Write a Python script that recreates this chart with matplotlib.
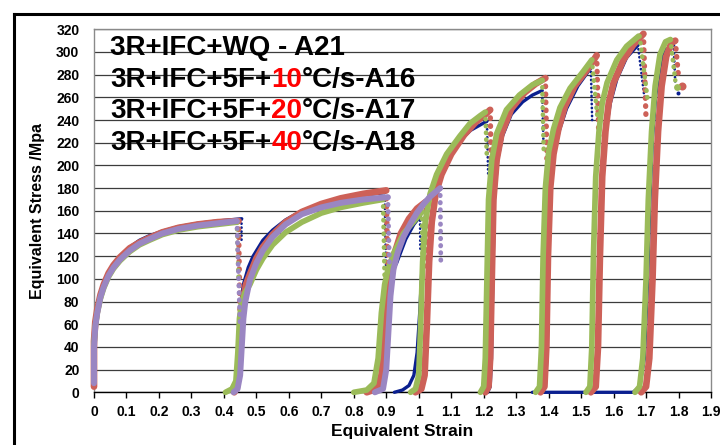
import matplotlib
matplotlib.use("Agg")
import matplotlib.pyplot as plt
from matplotlib.lines import Line2D

plt.rcParams['font.family'] = ['Liberation Sans', 'DejaVu Sans']
plt.rcParams['font.weight'] = 'bold'

# ---- axis ticks -------------------------------------------------------------
strain_ticks = [0, 0.1, 0.2, 0.3, 0.4, 0.5, 0.6, 0.7, 0.8, 0.9,
                1.0, 1.1, 1.2, 1.3, 1.4, 1.5, 1.6, 1.7, 1.8, 1.9]
strain_tick_labels = ['0', '0.1', '0.2', '0.3', '0.4', '0.5', '0.6', '0.7', '0.8', '0.9',
                      '1', '1.1', '1.2', '1.3', '1.4', '1.5', '1.6', '1.7', '1.8', '1.9']
stress_ticks = [0, 20, 40, 60, 80, 100, 120, 140, 160, 180,
                200, 220, 240, 260, 280, 300, 320]

# ---- A21: 3R+IFC+WQ (one list per deformation pass) -------------------------
a21_strain = [
    [0, 0, 0.004, 0.01, 0.02, 0.03, 0.045, 0.06, 0.08, 0.11, 0.14, 0.17, 0.21, 0.26, 0.32, 0.38, 0.455],
    [0.435, 0.44, 0.445, 0.45, 0.46, 0.475, 0.49, 0.52, 0.55, 0.59, 0.64, 0.70, 0.76, 0.83, 0.895],
    [0.86, 0.88, 0.89, 0.898, 0.905, 0.915, 0.932, 0.96, 0.985, 1.004],
    [0.925, 0.95, 0.97, 0.985, 0.995, 1.003, 1.01, 1.018, 1.03, 1.05, 1.08, 1.12, 1.16, 1.21],
    [1.212, 1.22, 1.224, 1.228, 1.233, 1.243, 1.258, 1.285, 1.32, 1.35, 1.38],
    [1.38, 1.39, 1.396, 1.40, 1.407, 1.417, 1.432, 1.455, 1.49, 1.53],
    [1.53, 1.545, 1.552, 1.558, 1.565, 1.575, 1.59, 1.61, 1.64, 1.675],
    [1.35, 1.50, 1.66, 1.68, 1.695, 1.705, 1.712, 1.72, 1.73, 1.745, 1.76, 1.785],
]
a21_stress = [
    [20, 55, 66, 76, 88, 96, 106, 113, 120, 128, 134, 138, 142, 146, 149, 151, 153],
    [0, 5, 40, 75, 95, 110, 120, 134, 143, 152, 160, 166, 170, 174, 176],
    [0, 5, 25, 70, 95, 105, 114, 135, 148, 155],
    [0, 2, 6, 15, 35, 70, 110, 150, 172, 188, 204, 220, 231, 239],
    [0, 5, 30, 100, 170, 205, 226, 245, 256, 262, 266],
    [0, 5, 40, 120, 180, 210, 230, 250, 270, 286],
    [0, 5, 40, 120, 190, 228, 255, 276, 295, 306],
    [0, 0, 0, 5, 30, 100, 170, 225, 262, 290, 302, 306],
]
a21_drop_strain = [[0.452, 0.452], [0.895, 0.90], [1.004, 1.005], [1.21, 1.214],
                   [1.38, 1.384], [1.53, 1.534], [1.675, 1.695], [1.785, 1.79]]
a21_drop_stress = [[153, 132], [176, 100], [155, 125], [239, 190],
                   [266, 220], [286, 240], [306, 260], [306, 272]]
a21_end_strain = [1.797]
a21_end_stress = [264]

# ---- A16: 3R+IFC+5F+10 C/s ---------------------------------------------------
a16_strain = [
    [0, 0, 0.004, 0.01, 0.02, 0.03, 0.045, 0.06, 0.08, 0.11, 0.14, 0.17, 0.21, 0.26, 0.32, 0.38, 0.445],
    [0.432, 0.44, 0.447, 0.452, 0.458, 0.468, 0.48, 0.50, 0.52, 0.55, 0.59, 0.64, 0.70, 0.76, 0.83, 0.90],
    [0.84, 0.87, 0.885, 0.893, 0.90, 0.91, 0.925, 0.945, 0.97, 0.995, 1.022],
    [0.99, 1.008, 1.018, 1.025, 1.032, 1.04, 1.052, 1.07, 1.10, 1.14, 1.175, 1.205, 1.22],
    [1.205, 1.215, 1.22, 1.225, 1.23, 1.24, 1.255, 1.285, 1.325, 1.36, 1.39],
    [1.375, 1.387, 1.393, 1.398, 1.405, 1.415, 1.43, 1.45, 1.48, 1.52, 1.548],
    [1.53, 1.545, 1.552, 1.558, 1.565, 1.575, 1.585, 1.60, 1.63, 1.66, 1.692],
    [1.685, 1.70, 1.71, 1.72, 1.727, 1.737, 1.748, 1.762, 1.778, 1.79],
]
a16_stress = [
    [5, 45, 62, 73, 86, 95, 105, 112, 119, 127, 132, 136, 141, 145, 148, 150, 151],
    [0, 4, 20, 50, 80, 95, 104, 118, 128, 139, 150, 159, 166, 171, 175, 178],
    [0, 3, 15, 45, 80, 103, 122, 140, 153, 162, 168],
    [0, 3, 15, 60, 115, 150, 175, 192, 210, 227, 238, 245, 249],
    [0, 5, 30, 100, 170, 205, 228, 250, 264, 272, 277],
    [0, 5, 40, 120, 180, 210, 232, 252, 270, 285, 297],
    [0, 5, 40, 120, 190, 230, 255, 273, 293, 306, 316],
    [0, 5, 30, 100, 170, 230, 270, 296, 308, 310],
]
a16_drop_strain = [[0.445, 0.45], [0.90, 0.905], [1.022, 1.025], [1.22, 1.225],
                   [1.39, 1.395], [1.548, 1.555], [1.692, 1.70], [1.79, 1.80]]
a16_drop_stress = [[151, 60], [178, 100], [168, 110], [249, 180],
                   [277, 200], [297, 220], [316, 240], [310, 278]]
a16_end_strain = [1.81]
a16_end_stress = [270]

# ---- A17: 3R+IFC+5F+20 C/s ---------------------------------------------------
a17_strain = [
    [0, 0, 0.004, 0.01, 0.02, 0.03, 0.045, 0.06, 0.08, 0.11, 0.14, 0.17, 0.21, 0.26, 0.32, 0.38, 0.44],
    [0.405, 0.425, 0.437, 0.443, 0.448, 0.455, 0.465, 0.48, 0.50, 0.52, 0.55, 0.59, 0.64, 0.70, 0.76, 0.83, 0.89],
    [0.80, 0.84, 0.862, 0.875, 0.885, 0.895, 0.905, 0.922, 0.953, 0.983, 1.01],
    [0.975, 0.99, 1.0, 1.006, 1.012, 1.02, 1.035, 1.055, 1.086, 1.127, 1.158, 1.19, 1.205],
    [1.19, 1.20, 1.205, 1.21, 1.215, 1.225, 1.24, 1.27, 1.31, 1.35, 1.38],
    [1.36, 1.372, 1.378, 1.383, 1.39, 1.40, 1.415, 1.435, 1.466, 1.507, 1.533],
    [1.515, 1.527, 1.533, 1.538, 1.545, 1.555, 1.565, 1.58, 1.61, 1.64, 1.677],
    [1.666, 1.68, 1.69, 1.70, 1.707, 1.717, 1.728, 1.743, 1.76, 1.775],
]
a17_stress = [
    [10, 42, 58, 70, 83, 92, 102, 109, 116, 124, 130, 134, 139, 143, 146, 148, 150],
    [0, 3, 10, 35, 65, 80, 88, 95, 108, 118, 130, 141, 150, 158, 163, 167, 170],
    [0, 2, 8, 30, 70, 95, 108, 122, 140, 150, 159],
    [0, 3, 15, 60, 115, 150, 175, 192, 210, 226, 237, 244, 247],
    [0, 5, 30, 100, 170, 205, 228, 249, 262, 271, 275],
    [0, 5, 40, 120, 180, 212, 232, 251, 268, 283, 293],
    [0, 5, 40, 120, 190, 230, 255, 273, 293, 305, 314],
    [0, 5, 30, 100, 170, 230, 270, 298, 309, 311],
]
a17_drop_strain = [[0.44, 0.445], [0.89, 0.895], [1.01, 1.012], [1.205, 1.21],
                   [1.38, 1.385], [1.533, 1.55], [1.68, 1.705], [1.775, 1.79]]
a17_drop_stress = [[150, 100], [170, 99], [159, 108], [247, 205],
                   [275, 211], [293, 243], [314, 258], [311, 275]]
a17_end_strain = [1.795]
a17_end_stress = [269]

# ---- A18: 3R+IFC+5F+40 C/s ---------------------------------------------------
a18_strain = [
    [0, 0, 0.004, 0.01, 0.02, 0.03, 0.045, 0.06, 0.08, 0.11, 0.14, 0.17, 0.21, 0.26, 0.32, 0.38, 0.44],
    [0.43, 0.442, 0.45, 0.455, 0.46, 0.466, 0.48, 0.50, 0.52, 0.55, 0.59, 0.64, 0.70, 0.76, 0.83, 0.905],
    [0.865, 0.89, 0.90, 0.907, 0.913, 0.922, 0.935, 0.953, 0.975, 0.994, 1.015, 1.035, 1.066],
]
a18_stress = [
    [8, 40, 58, 70, 84, 93, 103, 110, 117, 125, 131, 135, 140, 144, 147, 149, 151],
    [0, 3, 15, 40, 65, 80, 99, 114, 125, 137, 148, 157, 163, 167, 170, 172],
    [0, 3, 20, 55, 85, 108, 123, 137, 149, 158, 166, 172.5, 180],
]
a18_drop_strain = [[0.44, 0.45], [0.905, 0.91], [1.066, 1.068]]
a18_drop_stress = [[151, 57], [172, 112], [180, 115]]
a18_end_strain = []
a18_end_stress = []

# ---- figure ------------------------------------------------------------------
W, H = 720, 445
fig = plt.figure(figsize=(W / 100, H / 100), dpi=100)
fig.patch.set_facecolor('white')

x0_px, x1_px, y_top_px, y_bot_px = 94, 711, 29.3, 392.3
ax = fig.add_axes([x0_px / W, 1 - y_bot_px / H, (x1_px - x0_px) / W, (y_bot_px - y_top_px) / H])
ax.set_xlim(0, 1.9)
ax.set_ylim(0, 320)

ax.set_xticks(strain_ticks)
ax.set_xticklabels(strain_tick_labels)
ax.set_yticks(stress_ticks)
ax.tick_params(axis='x', direction='out', length=4, width=1, color='black', pad=5.5, labelsize=10)
ax.tick_params(axis='y', length=0, pad=10.5, labelsize=10)
for lab in ax.get_xticklabels() + ax.get_yticklabels():
    lab.set_fontweight('bold')

ax.yaxis.grid(True, color='#3c3c3c', linewidth=0.9)
ax.set_axisbelow(True)
ax.spines['bottom'].set_color('black')
ax.spines['bottom'].set_linewidth(1.0)
for side in ('left', 'top', 'right'):
    ax.spines[side].set_color('#8a8a8a')
    ax.spines[side].set_linewidth(1.0)

ax.set_xlabel('Equivalent Strain', fontsize=12.5, fontweight='bold', labelpad=3)
ax.set_ylabel('Equivalent Stress /Mpa', fontsize=11.5, fontweight='bold', labelpad=8)

series = [
    (a21_strain, a21_stress, a21_drop_strain, a21_drop_stress, a21_end_strain, a21_end_stress, '#0a1f8f', 2.4, 3),
    (a16_strain, a16_stress, a16_drop_strain, a16_drop_stress, a16_end_strain, a16_end_stress, '#cd6158', 4.8, 4),
    (a17_strain, a17_stress, a17_drop_strain, a17_drop_stress, a17_end_strain, a17_end_stress, '#9bbb59', 4.1, 5),
    (a18_strain, a18_stress, a18_drop_strain, a18_drop_stress, a18_end_strain, a18_end_stress, '#9a86c2', 4.3, 6),
]
for strain, stress, dstrain, dstress, estrain, estress, color, lw, z in series:
    for s, v in zip(strain, stress):
        ax.plot(s, v, color=color, lw=lw, solid_capstyle='round',
                solid_joinstyle='round', zorder=z, clip_on=False)
    for s, v in zip(dstrain, dstress):
        ax.plot(s, v, color=color, lw=lw * 0.8, ls=(0, (0.1, 1.4)),
                dash_capstyle='round', zorder=z, clip_on=False)
    if estrain:
        ax.plot(estrain, estress, 'o', ms=lw * 1.2, color=color, mec='none', zorder=z)

# ---- legend text (specimen labels with cooling rate in red) -------------------
legend_lines = [
    [('3R+IFC+WQ - A21', 'black')],
    [('3R+IFC+5F+', 'black'), ('10', '#ff0000'), ('°C/s-A16', 'black')],
    [('3R+IFC+5F+', 'black'), ('20', '#ff0000'), ('°C/s-A17', 'black')],
    [('3R+IFC+5F+', 'black'), ('40', '#ff0000'), ('°C/s-A18', 'black')],
]
baselines_px = [55.0, 86.6, 118.3, 150.3]
fig.canvas.draw()
renderer = fig.canvas.get_renderer()
for parts, yb in zip(legend_lines, baselines_px):
    xpos = 110.0
    for seg, col in parts:
        t = fig.text(xpos / W, 1 - yb / H, seg, color=col, fontsize=20,
                     fontweight='bold', ha='left', va='baseline', zorder=10)
        xpos = t.get_window_extent(renderer).x1

# ---- outer chart frame ----------------------------------------------------------
fig.add_artist(Line2D([13.5 / W, 13.5 / W], [0, 1 - 13.5 / H], transform=fig.transFigure,
                      color='black', lw=2.2))
fig.add_artist(Line2D([13.5 / W, 1], [1 - 13.5 / H, 1 - 13.5 / H], transform=fig.transFigure,
                      color='black', lw=2.2))

fig.savefig('out.png', dpi=100, facecolor='white')
